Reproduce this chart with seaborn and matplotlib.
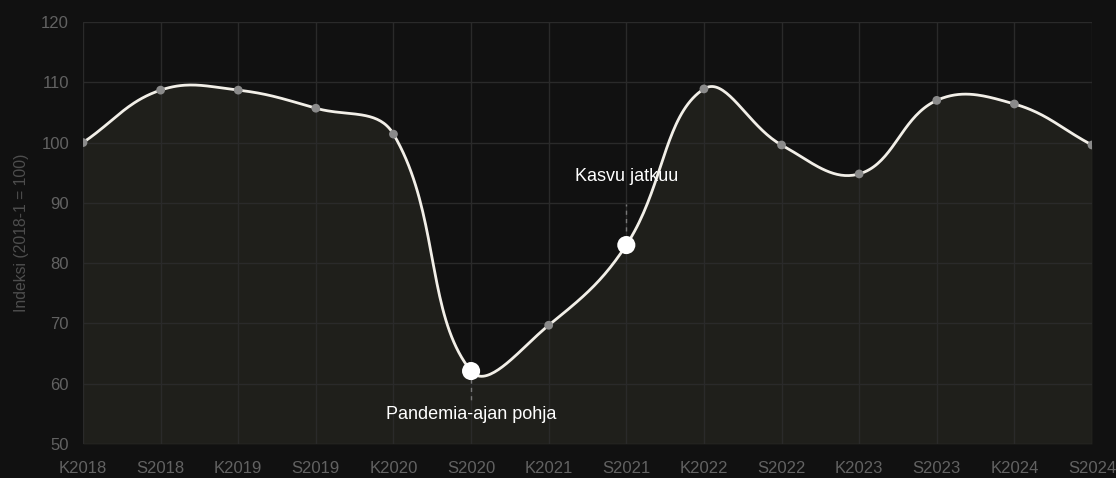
import numpy as np
import pandas as pd
import matplotlib
matplotlib.use("Agg")
import matplotlib.pyplot as plt
import seaborn as sns

periods = ["K2018", "S2018", "K2019", "S2019", "K2020", "S2020", "K2021",
           "S2021", "K2022", "S2022", "K2023", "S2023", "K2024", "S2024"]
index_values = [100.0, 108.7, 108.7, 105.7, 101.4, 62.1, 69.7,
                83.0, 108.9, 99.6, 94.8, 107.0, 106.4, 99.6]
highlights = {"S2020": "Pandemia-ajan pohja", "S2021": "Kasvu jatkuu"}

BG = "#111111"
FILL = "#1f1f1b"
GRID = "#2a2a2a"
TEXT = "#626262"
LINE = "#f2efe8"


def spline_curve(x, y, sx, sy, tension=0.4, steps=40):
    """Chart.js style cardinal spline; distances measured in pixel space."""
    px, py = np.asarray(x) * sx, np.asarray(y) * sy
    n = len(px)
    cp_prev = np.zeros((n, 2))
    cp_next = np.zeros((n, 2))
    for i in range(n):
        a = max(i - 1, 0)
        b = min(i + 1, n - 1)
        d01 = np.hypot(px[i] - px[a], py[i] - py[a])
        d12 = np.hypot(px[b] - px[i], py[b] - py[i])
        tot = d01 + d12
        s01 = d01 / tot if tot else 0
        s12 = d12 / tot if tot else 0
        dx, dy = px[b] - px[a], py[b] - py[a]
        cp_prev[i] = (px[i] - tension * s01 * dx, py[i] - tension * s01 * dy)
        cp_next[i] = (px[i] + tension * s12 * dx, py[i] + tension * s12 * dy)
    t = np.linspace(0, 1, steps)[:, None]
    pts = []
    for i in range(n - 1):
        p0 = np.array([px[i], py[i]])
        p3 = np.array([px[i + 1], py[i + 1]])
        p1, p2 = cp_next[i], cp_prev[i + 1]
        seg = ((1 - t) ** 3) * p0 + 3 * ((1 - t) ** 2) * t * p1 \
            + 3 * (1 - t) * t ** 2 * p2 + t ** 3 * p3
        pts.append(seg if i == 0 else seg[1:])
    pts = np.vstack(pts)
    return pts[:, 0] / sx, pts[:, 1] / sy


df = pd.DataFrame({"period": periods, "value": index_values})
df["pos"] = np.arange(len(df))

sns.set_theme(style="dark")
plt.rcParams["font.family"] = ["Liberation Sans", "DejaVu Sans"]

fig = plt.figure(figsize=(11.16, 4.78), dpi=100, facecolor=BG)
ax = fig.add_axes([83 / 1116, 1 - 444 / 478, (1092 - 83) / 1116, (444 - 22) / 478])
ax.set_facecolor(BG)

ymin, ymax = 50, 120
ax.set_xlim(0, len(periods) - 1)
ax.set_ylim(ymin, ymax)

# pixel scale for spline distance computation
sx = (1092 - 83) / (len(periods) - 1)
sy = (444 - 22) / (ymax - ymin)
cx, cy = spline_curve(df["pos"], df["value"], sx, sy)
curve = pd.DataFrame({"x": cx, "y": cy})

ax.fill_between(curve["x"], curve["y"], ymin, color=FILL, zorder=1, linewidth=0)

for v in range(ymin, ymax + 1, 10):
    ax.axhline(v, color="#333333" if v == ymin else GRID, lw=1, zorder=2)
for p in df["pos"]:
    ax.axvline(p, color=GRID, lw=1, zorder=2)

sns.lineplot(data=curve, x="x", y="y", ax=ax, color=LINE, lw=2,
             sort=False, estimator=None, zorder=3)

normal = df[~df["period"].isin(highlights)]
special = df[df["period"].isin(highlights)]
sns.scatterplot(data=normal, x="pos", y="value", ax=ax, color="#8a8a8a",
                s=40, edgecolor="none", zorder=4)
sns.scatterplot(data=special, x="pos", y="value", ax=ax, color="white",
                s=170, edgecolor="none", zorder=5)

for _, row in special.iterrows():
    label = highlights[row["period"]]
    if row["period"] == "S2020":
        ax.plot([row["pos"], row["pos"]], [row["value"] - 1.3, row["value"] - 5.5],
                color="#777777", lw=1, ls=(0, (3, 3)), zorder=3)
        ax.text(row["pos"], row["value"] - 7.2, label, color="white",
                fontsize=13, ha="center", va="center", zorder=6)
    else:
        ax.plot([row["pos"], row["pos"]], [row["value"] + 2.4, row["value"] + 6.8],
                color="#777777", lw=1, ls=(0, (3, 3)), zorder=3)
        ax.text(row["pos"], row["value"] + 11.3, label, color="white",
                fontsize=13, ha="center", va="center", zorder=6)

ax.set_xticks(df["pos"])
ax.set_xticklabels(df["period"])
ax.set_yticks(range(ymin, ymax + 1, 10))
ax.tick_params(axis="x", labelsize=12, length=7, width=1,
               color=GRID, pad=5, labelcolor=TEXT)
ax.tick_params(axis="y", labelsize=12, length=7, width=1,
               color=GRID, pad=3, labelcolor=TEXT)
ax.set_xlabel("")
ax.set_ylabel("Indeksi (2018-1 = 100)", color="#4e4e4e", fontsize=11.3, labelpad=9)
for s in ax.spines.values():
    s.set_visible(False)
ax.grid(False)

fig.savefig("out.png", dpi=100, facecolor=BG)
